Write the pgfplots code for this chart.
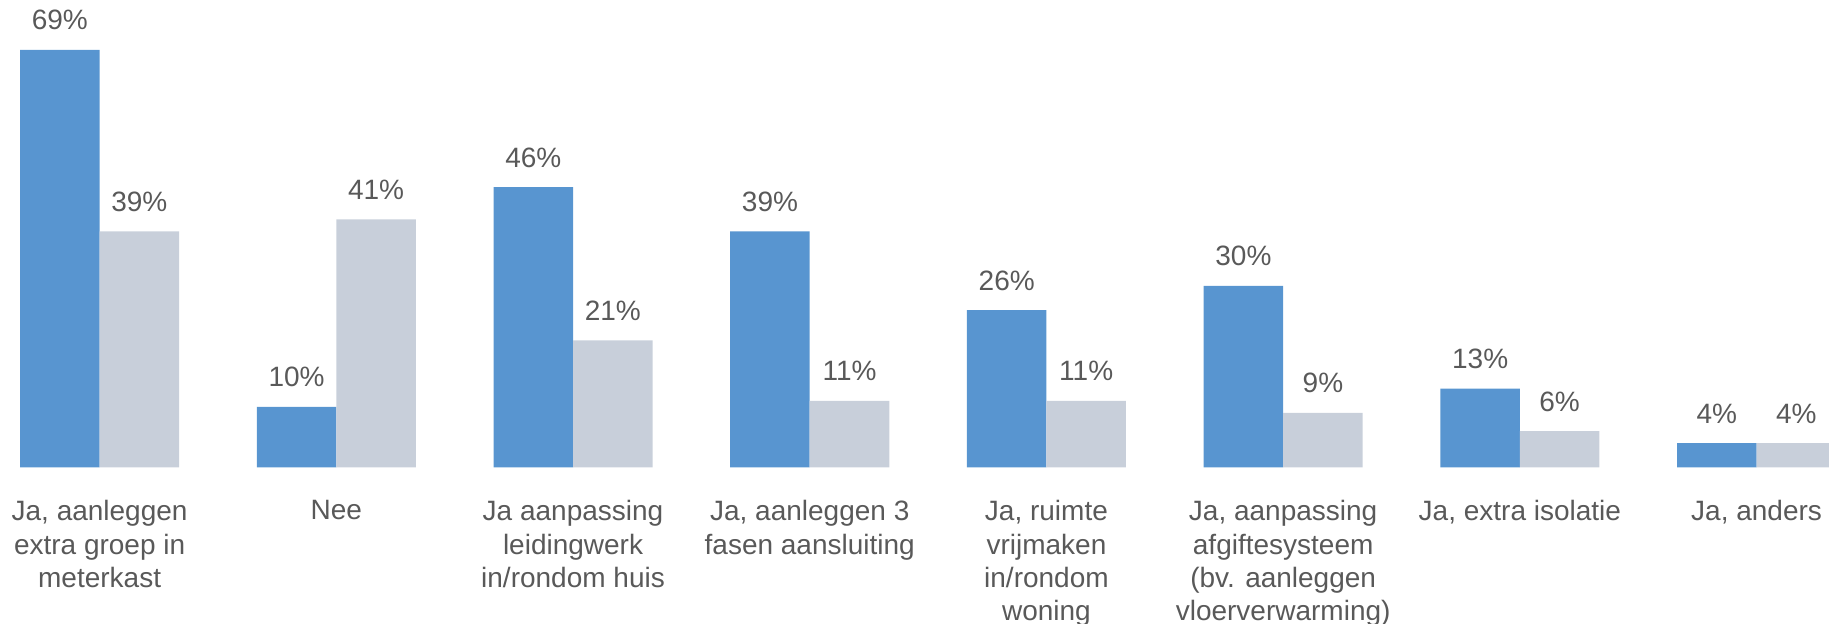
\documentclass[border=0pt]{standalone}
\usepackage{pgfplots}
\pgfplotsset{compat=1.18}
\usepackage{fontspec}
\setmainfont{Liberation Sans}
\definecolor{barblue}{HTML}{5895D0}
\definecolor{bargray}{HTML}{C8CFDA}
\definecolor{txtgray}{HTML}{595959}
\begin{document}
\begin{tikzpicture}
\path[use as bounding box] (0,0) rectangle (914.5pt,311.5pt);
\begin{axis}[
  at={(0pt,77.85pt)}, anchor=south west,
  scale only axis,
  width=914.5pt, height=233.65pt,
  xmin=-0.4208, xmax=7.306,
  ymin=0, ymax=77.24,
  ybar=0pt, bar width=39.75pt,
  axis line style={draw=none},
  tick style={draw=none},
  ytick=\empty,
  xtick={0,1,2,3,4,5,6,7},
  xticklabels={{Ja, aanleggen\\extra groep in\\meterkast},{Nee},{Ja aanpassing\\leidingwerk\\in/rondom huis},{Ja, aanleggen 3\\fasen aansluiting},{Ja, ruimte\\vrijmaken\\in/rondom\\woning},{Ja, aanpassing\\afgiftesysteem\\(bv. aanleggen\\vloerverwarming)},{Ja, extra isolatie},{Ja, anders}},
  xticklabel style={font=\fontsize{14}{16.6}\selectfont, text=txtgray, align=center, anchor=north, inner sep=0pt, yshift=-12.2pt},
  point meta=explicit symbolic,
  nodes near coords,
  every node near coord/.append style={font=\fontsize{14}{16.5}\selectfont, text=txtgray, anchor=south, inner sep=0pt, yshift=9.65pt},
]
\addplot[fill=barblue, draw=none] coordinates {
  (0,69) [69\%]
  (1,10) [10\%]
  (2,46.3) [46\%]
  (3,39) [39\%]
  (4,26) [26\%]
  (5,30) [30\%]
  (6,13) [13\%]
  (7,4) [4\%]
};
\addplot[fill=bargray, draw=none] coordinates {
  (0,39) [39\%]
  (1,41) [41\%]
  (2,21) [21\%]
  (3,11) [11\%]
  (4,11) [11\%]
  (5,9) [9\%]
  (6,6) [6\%]
  (7,4) [4\%]
};
\end{axis}
\end{tikzpicture}
\end{document}
